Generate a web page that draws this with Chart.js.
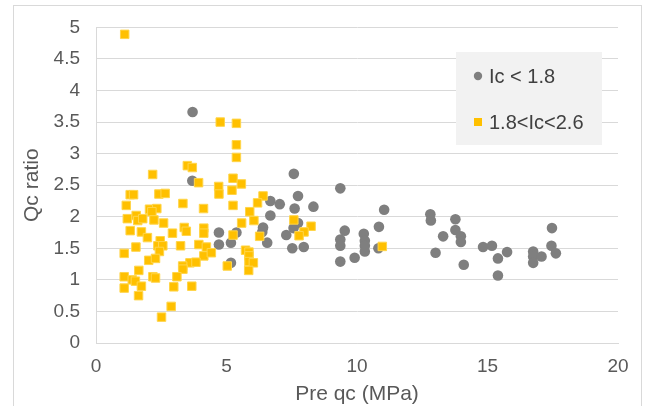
<!DOCTYPE html>
<html>
<head>
<meta charset="utf-8">
<script src="https://cdn.jsdelivr.net/npm/chart.js@4.4.1/dist/chart.umd.min.js"></script>
<style>
    html, body { margin: 0; padding: 0; background: #fff; }
    #wrap { position: relative; width: 645px; height: 406px; overflow: hidden; }
    #frame { position: absolute; left: 13px; top: 5px; width: 629px; height: 420px; border: 1px solid #d9d9d9; box-sizing: border-box; }
    canvas { position: absolute; left: 0; top: 0; }
</style>
</head>
<body>
<div id="wrap">
    <div id="frame"></div>
    <canvas id="scatterChart" width="645" height="406"></canvas>
</div>
<script>
// Series labels
const seriesNames = ['Ic < 1.8', '1.8<Ic<2.6'];

// Ic < 1.8 (grey circles)
const lowIcX = [3.70, 3.69, 7.58, 9.36, 7.74, 6.68, 7.04, 7.61, 8.33, 6.68,
    7.74, 7.57, 7.29, 6.40, 6.37, 4.71, 5.38, 6.56, 5.17, 4.71,
    7.52, 7.96, 9.36, 9.36, 5.17, 9.36, 11.04, 12.81, 12.83, 13.77,
    10.84, 9.53, 10.26, 10.30, 10.30, 10.30, 13.30, 13.77, 10.82, 9.91,
    13.01, 13.98, 13.98, 14.09, 14.83, 15.17, 15.75, 15.40, 15.40, 16.75,
    16.75, 16.75, 17.07, 17.47, 17.45, 17.62];
const lowIcY = [3.66, 2.57, 2.68, 2.45, 2.33, 2.25, 2.20, 2.13, 2.16, 2.02,
    1.90, 1.82, 1.71, 1.83, 1.76, 1.75, 1.75, 1.59, 1.59, 1.56,
    1.50, 1.52, 1.64, 1.54, 1.27, 1.29, 2.11, 2.04, 1.94, 1.96,
    1.84, 1.78, 1.73, 1.62, 1.54, 1.45, 1.69, 1.79, 1.50, 1.35,
    1.43, 1.69, 1.60, 1.24, 1.52, 1.54, 1.44, 1.34, 1.07, 1.45,
    1.37, 1.27, 1.37, 1.82, 1.54, 1.42];

// 1.8<Ic<2.6 (yellow squares)
const midIcX = [1.10, 3.50, 3.69, 3.93, 2.17, 1.31, 1.44, 2.41, 2.65, 1.16,
    3.33, 4.12, 2.05, 2.33, 2.14, 1.20, 1.54, 1.60, 1.79, 2.22,
    2.59, 3.38, 3.46, 4.13, 4.13, 1.31, 1.74, 2.93, 1.97, 2.46,
    2.37, 2.56, 2.43, 1.53, 3.24, 3.94, 4.23, 1.08, 4.13, 2.02,
    2.28, 3.60, 3.83, 3.32, 3.33, 1.64, 1.08, 1.39, 1.51, 2.18,
    2.28, 3.10, 1.08, 1.74, 2.98, 3.67, 1.63, 2.88, 2.51, 4.76,
    5.38, 5.38, 5.38, 4.70, 4.71, 5.25, 5.57, 5.21, 6.40, 6.19,
    5.25, 5.89, 6.05, 7.58, 5.58, 8.24, 7.97, 7.78, 5.25, 6.27,
    4.42, 5.73, 5.86, 5.86, 5.86, 6.03, 5.85, 5.03, 10.97];
const midIcY = [4.89, 2.81, 2.78, 2.54, 2.67, 2.35, 2.35, 2.36, 2.37, 2.18,
    2.21, 2.13, 2.12, 2.13, 2.08, 1.97, 2.02, 1.94, 1.97, 1.95,
    1.90, 1.83, 1.77, 1.82, 1.74, 1.78, 1.76, 1.74, 1.67, 1.62,
    1.54, 1.54, 1.45, 1.52, 1.54, 1.56, 1.52, 1.42, 1.38, 1.31,
    1.34, 1.27, 1.28, 1.22, 1.17, 1.15, 1.05, 1.00, 0.98, 1.05,
    1.03, 1.05, 0.87, 0.90, 0.89, 0.90, 0.75, 0.58, 0.41, 3.50,
    3.48, 3.14, 2.94, 2.48, 2.36, 2.61, 2.52, 2.42, 2.33, 2.22,
    2.18, 2.08, 1.94, 1.95, 1.90, 1.85, 1.76, 1.70, 1.71, 1.69,
    1.43, 1.47, 1.44, 1.38, 1.29, 1.27, 1.15, 1.22, 1.53];

// Axis settings
const xMin = 0, xMax = 20, xStep = 5;
const yMin = 0, yMax = 5, yStep = 0.5;

function toPoints(xs, ys) {
    return xs.map((x, i) => ({ x: x, y: ys[i] }));
}

const fontFamily = '"Liberation Sans", Arial, sans-serif';

// Legend drawn inside the plot area on a grey box
const boxLegend = {
    id: 'boxLegend',
    afterDatasetsDraw(chart) {
        const ctx = chart.ctx;
        const left = 456, top = 52, width = 146, height = 93;
        ctx.save();
        ctx.fillStyle = '#f2f2f2';
        ctx.fillRect(left, top, width, height);
        const rows = [76, 122];
        chart.data.datasets.forEach(function(ds, i) {
            const y = rows[i];
            ctx.fillStyle = ds.backgroundColor;
            if (ds.pointStyle === 'rect') {
                ctx.fillRect(474, y - 4, 8, 8);
            } else {
                ctx.beginPath();
                ctx.arc(478, y, 4.2, 0, Math.PI * 2);
                ctx.fill();
            }
            ctx.fillStyle = '#404040';
            ctx.font = '20px ' + fontFamily;
            ctx.textBaseline = 'middle';
            ctx.textAlign = 'left';
            ctx.fillText(ds.label, 489, y + 1);
        });
        ctx.restore();
    }
};

document.addEventListener('DOMContentLoaded', function() {
    new Chart(document.getElementById('scatterChart'), {
        type: 'scatter',
        data: {
            datasets: [
                {
                    label: seriesNames[0],
                    data: toPoints(lowIcX, lowIcY),
                    backgroundColor: '#7f7f7f',
                    borderColor: '#7f7f7f',
                    borderWidth: 0,
                    pointStyle: 'circle',
                    pointRadius: 5.3,
                    order: 2
                },
                {
                    label: seriesNames[1],
                    data: toPoints(midIcX, midIcY),
                    backgroundColor: '#ffc000',
                    borderColor: '#ffd54a',
                    borderWidth: 1,
                    pointStyle: 'rect',
                    pointRadius: 6,
                    order: 1
                }
            ]
        },
        options: {
            responsive: false,
            animation: false,
            devicePixelRatio: 1,
            layout: {
                padding: { left: 0, top: 20, right: 27, bottom: 0 }
            },
            plugins: {
                legend: { display: false },
                tooltip: { enabled: false }
            },
            scales: {
                x: {
                    type: 'linear',
                    min: xMin,
                    max: xMax,
                    afterFit: function(scale) { scale.height = 63; },
                    ticks: {
                        stepSize: xStep,
                        color: '#595959',
                        font: { family: fontFamily, size: 19 },
                        padding: 12,
                        maxRotation: 0
                    },
                    grid: { display: false, drawTicks: false },
                    border: { display: true, color: '#d9d9d9' },
                    title: {
                        display: true,
                        text: 'Pre qc (MPa)',
                        color: '#595959',
                        font: { family: fontFamily, size: 21 },
                        padding: { top: 0, bottom: -1 }
                    }
                },
                y: {
                    type: 'linear',
                    min: yMin,
                    max: yMax,
                    afterFit: function(scale) { scale.width = 96; },
                    ticks: {
                        stepSize: yStep,
                        color: '#595959',
                        font: { family: fontFamily, size: 19 },
                        padding: 16,
                        callback: function(value) { return String(Number(value.toFixed(1))); }
                    },
                    grid: { color: '#d9d9d9', drawTicks: false },
                    border: { display: true, color: '#d9d9d9' },
                    title: {
                        display: true,
                        text: 'Qc ratio',
                        color: '#595959',
                        font: { family: fontFamily, size: 21 },
                        padding: { top: 20, bottom: 0 }
                    }
                }
            }
        },
        plugins: [boxLegend]
    });
});
</script>
</body>
</html>
